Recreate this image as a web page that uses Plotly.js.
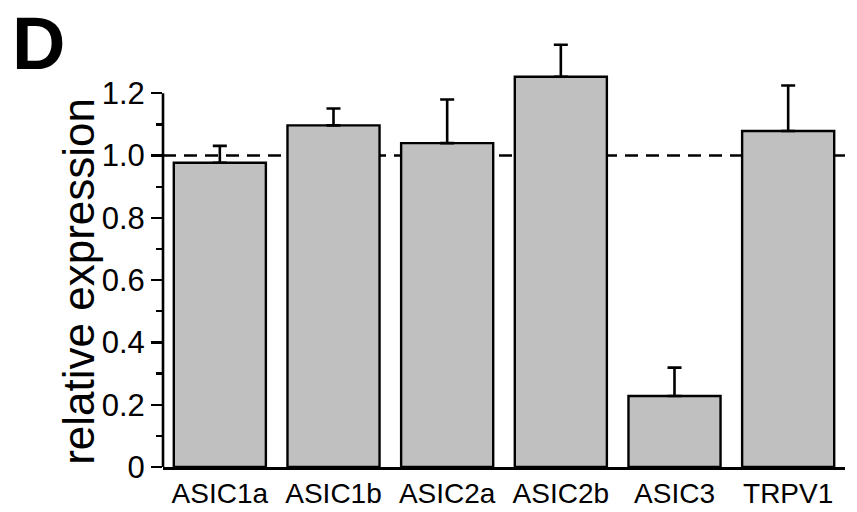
<!DOCTYPE html>
<html>
<head>
<meta charset="utf-8">
<script src="https://cdn.plot.ly/plotly-3.0.1.min.js"></script>
<style>html,body{margin:0;padding:0;background:#fff;}#chart{width:857px;height:512px;}</style>
</head>
<body>
<div id="chart"></div>
<script>
const categories = ["ASIC1a", "ASIC1b", "ASIC2a", "ASIC2b", "ASIC3", "TRPV1"];
const expression = [0.977, 1.097, 1.040, 1.253, 0.228, 1.079];
const errorUp = [0.054, 0.054, 0.140, 0.103, 0.091, 0.146];
const majorTicks = [0, 0.2, 0.4, 0.6, 0.8, 1.0, 1.2];
const majorTickText = ["0", "0.2", "0.4", "0.6", "0.8", "1.0", "1.2"];
const minorTicks = [0.1, 0.3, 0.5, 0.7, 0.9, 1.1];
const referenceLevel = 1.0;

const FONT = "Liberation Sans, Arial, sans-serif";

const trace = {
  type: "bar",
  x: categories,
  y: expression,
  marker: { color: "#c0c0c0", line: { color: "#000", width: 2.4 } },
  error_y: {
    type: "data", symmetric: false,
    array: errorUp,
    arrayminus: expression.map(() => 0),
    color: "#000", thickness: 2.6, width: 7
  },
  hoverinfo: "none"
};

const layout = {
  width: 857, height: 512,
  margin: { l: 163, r: 12, t: 31, b: 45 },
  paper_bgcolor: "#fff", plot_bgcolor: "#fff",
  showlegend: false,
  bargap: 0.19,
  font: { family: FONT, color: "#000" },
  xaxis: {
    type: "category",
    range: [-0.5, 5.5],
    showline: true, linecolor: "#000", linewidth: 2.6,
    ticks: "", showgrid: false, zeroline: false,
    tickfont: { size: 28, family: FONT, color: "#000" }
  },
  yaxis: {
    range: [0, 1.4],
    showline: false, showgrid: false, zeroline: false,
    tickmode: "array", tickvals: majorTicks, ticktext: majorTickText,
    ticks: "outside", ticklen: 11, tickwidth: 2.4, tickcolor: "#000",
    tickfont: { size: 31, family: FONT, color: "#000" },
    minor: { tickmode: "array", tickvals: minorTicks, ticks: "outside", ticklen: 6, tickwidth: 2.4, tickcolor: "#000", showgrid: false }
  },
  shapes: [
    { type: "line", xref: "paper", yref: "y", x0: 0, x1: 1, y0: referenceLevel, y1: referenceLevel,
      line: { color: "#000", width: 2.6, dash: "13px,8px" }, layer: "below" },
    { type: "line", xref: "paper", yref: "y", x0: 0, x1: 0, y0: 0, y1: majorTicks[majorTicks.length - 1],
      line: { color: "#000", width: 2.6 }, layer: "above" }
  ],
  annotations: [
    { text: "relative expression", textangle: -90, xref: "paper", yref: "y",
      x: -0.125, y: 0.597, xanchor: "center", yanchor: "middle", showarrow: false,
      font: { size: 44, family: FONT, color: "#000" } },
    { text: "<b>D</b>", xref: "paper", yref: "paper",
      x: -0.224, y: 1.071, xanchor: "left", yanchor: "top", showarrow: false,
      font: { size: 74, family: FONT, color: "#000" } }
  ]
};

Plotly.newPlot("chart", [trace], layout, { displayModeBar: false, staticPlot: true });
</script>
</body>
</html>
